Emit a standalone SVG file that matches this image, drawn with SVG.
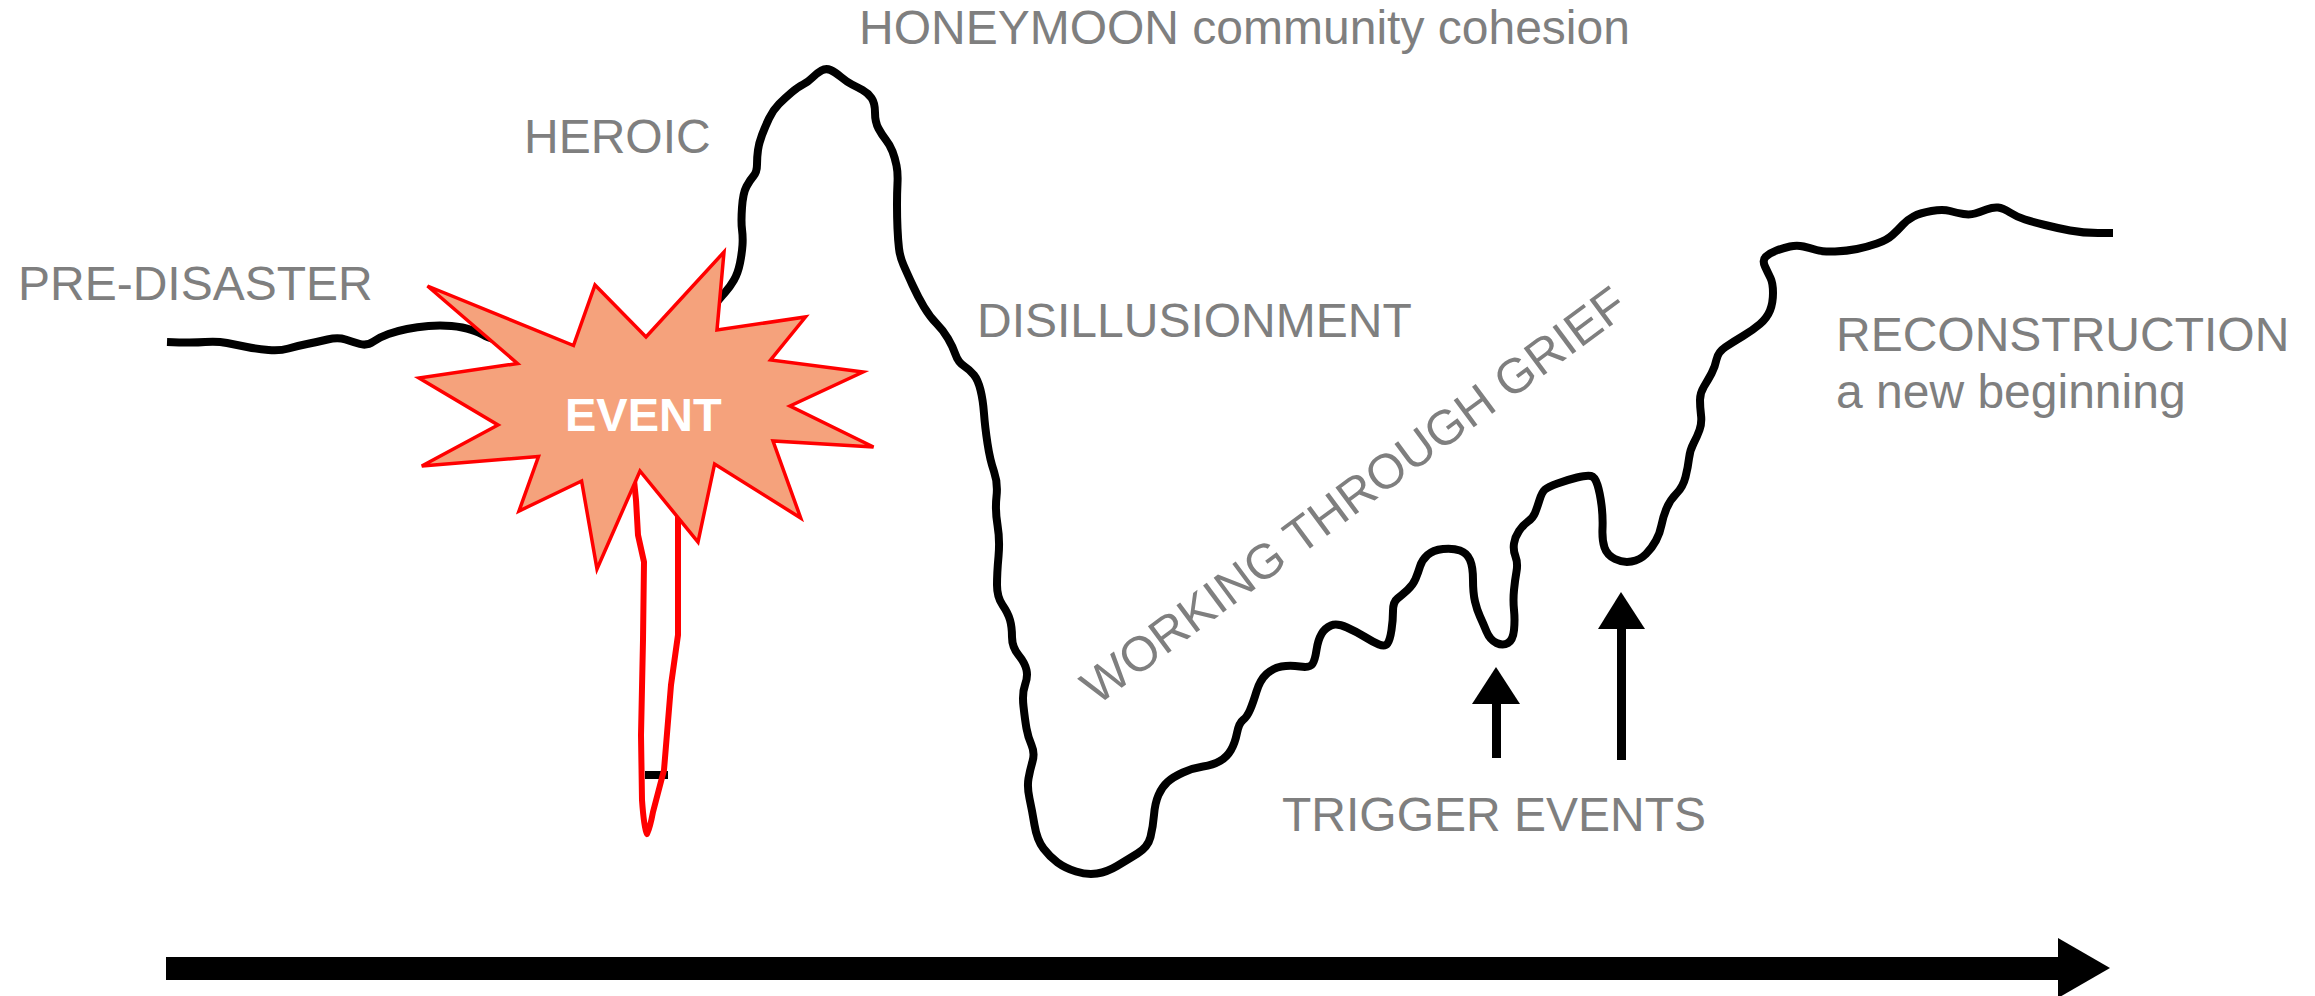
<svg xmlns="http://www.w3.org/2000/svg" width="2315" height="996" viewBox="0 0 2315 996">
<style>
.lbl{font-family:"Liberation Sans",Arial,sans-serif;font-size:48px;fill:#7f7f7f}
.curve{fill:none;stroke:#000;stroke-width:8;stroke-linejoin:round;stroke-linecap:butt}
.red{fill:none;stroke:#ff0000;stroke-width:6;stroke-linejoin:round;stroke-linecap:round}
</style>
<rect width="2315" height="996" fill="#fff"/>
<g id="connectors">
<path id="curve-pre" class="curve" d="M167,342 Q193,343 205,342 Q217,341 227,343 Q237,345 247,347 Q257,349 268.5,350 Q280,351 288.5,348.5 Q297,346 307,344 Q317,342 327.5,339.5 Q338,337 345.5,339.5 Q353,342 360,344 Q367,346 373.5,341.5 Q380,337 388.5,334 Q397,331 407,329 Q417,327 428.5,326 Q440,325 451.5,326 Q463,327 471.5,330 Q480,333 483.5,335 Q487,337 496,340 L505,343"/>
<path id="curve-dip" class="curve" d="M645,775 L668,775"/>
<path id="event-drop" class="red" d="M634,480 L636,500 L638,535 L644,562 L643,640 L641,735 L642,800 Q644,828 647,834 Q650,828 653,812 L664,770 L671,685 L678,635 L678,500"/>
<path id="curve-main" class="curve" d="M712,308 Q720,298 725,292.5 Q730,287 734,280 Q738,273 740,263 Q742,253 742.5,245 Q743,237 742,229.5 Q741,222 742,207.5 Q743,193 746.5,186.5 Q750,180 753.5,176 Q757,172 757,164.5 Q757,157 758,150 Q759,143 762,135 Q765,127 769,118.5 Q773,110 779,104 Q785,98 791.5,92.5 Q798,87 803,84.5 Q808,82 812.5,77.5 Q817,73 821.5,70.5 Q826,68 830.5,70 Q835,72 841,77 Q847,82 852,84.5 Q857,87 862.5,90 Q868,93 871.5,98 Q875,103 875,112.5 Q875,122 878.5,128.5 Q882,135 886,140 Q890,145 892.5,151.5 Q895,158 896.5,165.5 Q898,173 897.5,183 Q897,193 897,205 Q897,217 897.5,228.5 Q898,240 899,248.5 Q900,257 903.5,265 Q907,273 912.5,285 Q918,297 924,307 Q930,317 936.5,323.5 Q943,330 948,338.5 Q953,347 955.5,354.5 Q958,362 964,366 Q970,370 974,375 Q978,380 980.5,390 Q983,400 984,413.5 Q985,427 987.5,443.5 Q990,460 994,471.5 Q998,483 996.5,496.5 Q995,510 997.5,525 Q1000,540 998.5,556.5 Q997,573 997,585 Q997,597 1002.5,605 Q1008,613 1010,620 Q1012,627 1012,637 Q1012,647 1018.5,655 Q1025,663 1026.5,670 Q1028,677 1025,685 Q1022,693 1023.5,706.5 Q1025,720 1026.5,728.5 Q1028,737 1031.5,745 Q1035,753 1032.5,761.5 Q1030,770 1028.5,778.5 Q1027,787 1029.5,798.5 Q1032,810 1034.5,825 Q1037,840 1043.5,848.5 Q1050,857 1057.5,862.5 Q1065,868 1076,871.5 Q1087,875 1097,873.5 Q1107,872 1117,866 Q1127,860 1137.5,853.5 Q1148,847 1150.5,837 Q1153,827 1154,815 Q1155,803 1158.5,795 Q1162,787 1167.5,782 Q1173,777 1183,772.5 Q1193,768 1203,766.5 Q1213,765 1220,761 Q1227,757 1231,750 Q1235,743 1237,733 Q1239,723 1243,720 Q1247,717 1250,710 Q1253,703 1256.5,691.5 Q1260,680 1266.5,674 Q1273,668 1281.5,666.5 Q1290,665 1300,666.5 Q1310,668 1312.5,664 Q1315,660 1316.5,650 Q1318,640 1321.5,634 Q1325,628 1331,625.5 Q1337,623 1347,627.5 Q1357,632 1365,637 Q1373,642 1379,644.5 Q1385,647 1387.5,643.5 Q1390,640 1391.5,630 Q1393,620 1393,611 Q1393,602 1397.5,598.5 Q1402,595 1407.5,590 Q1413,585 1415.5,579 Q1418,573 1420,566.5 Q1422,560 1427.5,555 Q1433,550 1443,549 Q1453,548 1460,550.5 Q1467,553 1470,560 Q1473,567 1473,580 Q1473,593 1475,601.5 Q1477,610 1480,616.5 Q1483,623 1486.5,631.5 Q1490,640 1496.5,643 Q1503,646 1508,643 Q1513,640 1514,630 Q1515,620 1514,610 Q1513,600 1514,590 Q1515,580 1516.5,571.5 Q1518,563 1515.5,556.5 Q1513,550 1514,543.5 Q1515,537 1519,531 Q1523,525 1528,521.5 Q1533,518 1535,513 Q1537,508 1539.5,500 Q1542,492 1545,489.5 Q1548,487 1557.5,483.5 Q1567,480 1577,477.5 Q1587,475 1591,476 Q1595,477 1597.5,485 Q1600,493 1601.5,505 Q1603,517 1602.5,528.5 Q1602,540 1604.5,547.5 Q1607,555 1615,559 Q1623,563 1631.5,561.5 Q1640,560 1646,554 Q1652,548 1656,540.5 Q1660,533 1661.5,525 Q1663,517 1666.5,508.5 Q1670,500 1676.5,493.5 Q1683,487 1685.5,477 Q1688,467 1689,458.5 Q1690,450 1693.5,443.5 Q1697,437 1699.5,430 Q1702,423 1701,415 Q1700,407 1700,400 Q1700,393 1704,386.5 Q1708,380 1711.5,373.5 Q1715,367 1716.5,359.5 Q1718,352 1725.5,347 Q1733,342 1743,336 Q1753,330 1760,324 Q1767,318 1770,310.5 Q1773,303 1773,293 Q1773,283 1770.5,278 Q1768,273 1765,266.5 Q1762,260 1766,256.5 Q1770,253 1776.5,250.5 Q1783,248 1790,246.5 Q1797,245 1803.5,246.5 Q1810,248 1816.5,250 Q1823,252 1835,251.5 Q1847,251 1857,249 Q1867,247 1877,243.5 Q1887,240 1892.5,235 Q1898,230 1902.5,225 Q1907,220 1913.5,216.5 Q1920,213 1931.5,211 Q1943,209 1950,211 Q1957,213 1963.5,214 Q1970,215 1975,213.5 Q1980,212 1986.5,209.5 Q1993,207 1998,207.5 Q2003,208 2010,212.5 Q2017,217 2025,219.5 Q2033,222 2045,225 Q2057,228 2070,230.5 Q2083,233 2098,233 L2113,233"/>
<g id="trigger-arrows" fill="#000">
<rect x="1492" y="700" width="9" height="58"/>
<polygon points="1472,704 1496,667 1520,704"/>
<rect x="1617" y="625" width="9" height="135"/>
<polygon points="1598,629 1621,592 1645,629"/>
</g>
<g id="time-axis" fill="#000">
<rect x="166" y="957" width="1893" height="23"/>
<polygon points="2058,938 2110,968 2058,998"/>
</g>
</g>
<g id="event">
<polygon fill="#f5a27c" stroke="#ff0000" stroke-width="3.5" stroke-linejoin="miter" points="427.5,286 573.5,345.5 595,285 646,337 724,252 717,330 805.5,317 770.6,360 863,372 790,406 873.5,447 773,441 800.7,518 714.6,464 698,542 640,471 597,569 581.6,481 519,511 538.5,456.5 421.8,466 498,425 419,378 517.5,363.5"/>
<text x="565" y="431" style="font-family:'Liberation Sans',Arial,sans-serif;font-size:47px;font-weight:bold;fill:#fff">EVENT</text>
</g>
<g id="pre-disaster"><text class="lbl" x="18" y="300">PRE-DISASTER</text></g>
<g id="heroic"><text class="lbl" x="524" y="153">HEROIC</text></g>
<g id="honeymoon"><text class="lbl" x="859" y="44">HONEYMOON community cohesion</text></g>
<g id="disillusionment"><text class="lbl" x="977" y="337">DISILLUSIONMENT</text></g>
<g id="working-through-grief"><text class="lbl" x="1097" y="706" style="font-size:49px" transform="rotate(-36.5 1097 706)">WORKING THROUGH GRIEF</text></g>
<g id="trigger-events"><text class="lbl" x="1282" y="831">TRIGGER EVENTS</text></g>
<g id="reconstruction"><text class="lbl" x="1836" y="351">RECONSTRUCTION</text><text class="lbl" x="1836" y="408">a new beginning</text></g>
</svg>
